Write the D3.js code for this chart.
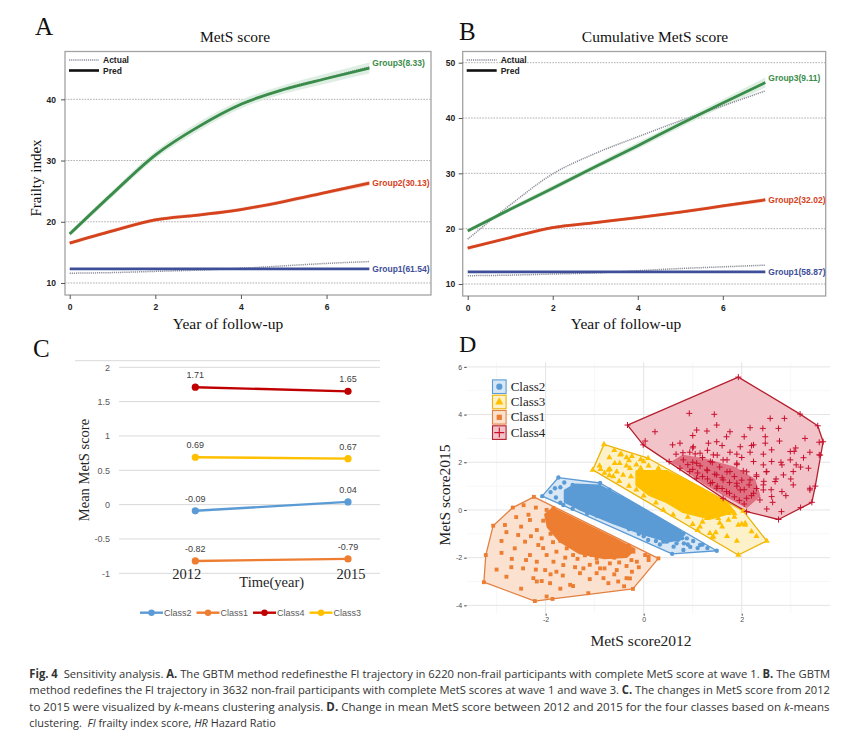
<!DOCTYPE html>
<html><head><meta charset="utf-8">
<script src="https://cdn.jsdelivr.net/npm/d3@7"></script>
<style>body{margin:0;background:#fff}</style>
</head><body>
<svg id="fig" width="863" height="748"></svg>
<script>
// ================= DATA =================
const years = [0,1,2,3,4,5,6,7];
const trajXTicks = [0,2,4,6];
const aYTicks = [10,20,30,40];
const bYTicks = [10,20,30,40,50];

// Panel A : MetS score
const aG3Pred = [18.0,24.6,30.9,35.5,39.2,41.6,43.4,45.1];
const aG3Act  = [18.1,24.7,31.0,35.4,39.1,41.7,43.5,45.3];
const aG3Ci   = [0.4,0.5,0.6,0.7,0.7,0.7,0.8,0.9];
const aG2Pred = [16.5,18.5,20.3,21.1,22.0,23.3,24.8,26.3];
const aG2Act  = [16.6,18.4,20.4,21.0,22.1,23.2,24.9,26.4];
const aG2Ci   = [0.3,0.3,0.3,0.3,0.3,0.3,0.3,0.4];
const aG1Pred = [12.3,12.3,12.3,12.3,12.3,12.3,12.3,12.3];
const aG1Act  = [11.6,11.7,11.9,12.1,12.4,12.8,13.2,13.5];
const aLabels = ["Group3(8.33)","Group2(30.13)","Group1(61.54)"];

// Panel B : Cumulative MetS score
const bG3Pred = [19.6,23.5,27.3,31.2,35.0,38.9,42.7,46.4];
const bG3Act  = [18.1,24.3,29.9,33.6,36.6,39.5,42.2,44.9];
const bG3Ci   = [0.4,0.4,0.5,0.5,0.6,0.6,0.7,0.9];
const bG2Pred = [16.5,18.4,20.2,21.1,22.0,23.0,24.1,25.2];
const bG2Act  = [16.6,18.3,20.3,21.0,22.1,22.9,24.2,25.3];
const bG2Ci   = [0.3,0.3,0.3,0.3,0.3,0.3,0.3,0.4];
const bG1Pred = [12.2,12.2,12.2,12.2,12.2,12.2,12.2,12.2];
const bG1Act  = [11.5,11.6,11.8,12.0,12.4,12.8,13.1,13.4];
const bLabels = ["Group3(9.11)","Group2(32.02)","Group1(58.87)"];

// Panel C : mean MetS score by class
const cYears = ["2012","2015"];
const cClasses = ["Class2","Class1","Class4","Class3"];
const class2Mean = [-0.09,0.04];
const class1Mean = [-0.82,-0.79];
const class4Mean = [1.71,1.65];
const class3Mean = [0.69,0.67];
const cYTicks = [-1,-0.5,0,0.5,1,1.5,2];

// Panel D : k-means clusters (MetS score2012, MetS score2015)
const dXMajor = [-2,0,2], dXMinor = [-3,-1,1,3];
const dYMajor = [-4,-2,0,2,4,6], dYMinor = [-3,-1,1,3,5];
const dLegend = ["Class2","Class3","Class1","Class4"];
const class1Pts = [[-2.24,0.55],[-2.67,0.1],[-3.07,-0.66],[-3.22,-1.89],[-3.26,-3.03],[-2.22,-3.82],[-1.86,-3.73],[-0.22,-3.31],[0.3,-2.03],
 [-2.32,-0.42],[-1.95,-0.28],[-2.83,-0.63],[-2.8,-0.93],[-2.56,-1.05],[-2.42,-1.33],[-2.18,-0.84],[-2.08,-1.19],[-2.63,-1.61],[-2.69,-2.05],
 [-2.32,-1.89],[-2.46,-2.45],[-2.25,-2.86],[-2.08,-2.98],[-1.91,-3.07],[-1.78,-2.59],[-1.84,-2.17],[-1.64,-2.31],[-1.5,-3.14],[-1.3,-2.65],
 [-1.13,-3.49],[-0.96,-2.65],[-0.82,-2.86],[-0.72,-3.07],[-0.52,-3.0],[-0.35,-2.86],[-0.24,-2.59],[-0.14,-2.17],[0.03,-1.89],[0.1,-1.95],
 [-0.3,-1.5],[-0.21,-1.75],[-0.45,-1.89],[-0.69,-2.24],[-0.96,-2.03],[-1.16,-1.75],[-1.44,-1.89],[-1.57,-1.61],[-1.78,-1.75],[-1.98,-1.89],
 [-2.15,-1.47],[-2.01,-2.52],[-2.18,-2.17],[-1.91,-0.7],[-1.74,-0.49],[-1.84,0.07],[-1.98,0.0],[-1.5,-0.35],[-1.23,-2.45],[-1.06,-1.89],
 [-0.55,-2.52],[-2.18,-3.0],[-1.98,-3.63],[-0.28,-2.87],[-1.44,-3.19],[-0.89,-2.45],[-2.9,-1.3],[-3.0,-2.5],[-2.8,-2.8],[-2.5,-3.3],
 [-2.6,-0.3],[-2.45,0.2],[-2.2,0.1],[-2.05,-0.45],[-1.7,-1.3],[-1.2,-1.6],[-0.8,-1.75],[-0.6,-2.0],[-1.35,-2.05],[-1.65,-2.75],[-2.4,-2.1],
 [-1.9,-1.0],[-1.7,-0.8],[-1.5,-1.5],[-1.2,-1.9],[-0.95,-2.2],[-0.7,-1.95],[-0.5,-2.2],[-0.25,-2.1],[-1.1,-2.3],[-1.4,-2.4],[-1.6,-2.0],
 [-2.3,-1.1],[-2.5,-0.7],[-2.2,-2.5],[-1.9,-2.7],[-1.1,-2.9],[-0.6,-2.7],[-0.4,-3.2],[-1.7,-3.3],[-2.7,-2.4],[-2.9,-1.8],[-0.1,-2.4],[0.1,-2.1],
 [-2.05,-1.6],[-1.35,-1.1],[-0.95,-1.55],[-0.35,-2.35],[-0.8,-2.45],[-1.85,-1.35],[-2.35,-0.2]];
const class1Core = [[-1.85,0.05],[-1.2,-0.61],[-0.6,-1.22],[-0.2,-1.65],[-0.35,-1.95],[-0.8,-2.0],[-1.3,-1.8],[-1.7,-1.3],[-1.95,-0.7],[-2.0,-0.2]];
const class2Pts = [[-1.74,1.36],[-0.89,1.13],[1.49,-1.71],[0.58,-1.84],[-2.07,0.58],
 [-1.79,0.52],[-1.57,0.42],[-1.4,0.21],[-1.64,0.21],[-1.37,0.77],[-1.16,0.49],[-1.03,0.91],[-1.3,0.07],[-0.7,0.85],[-1.81,0.91],[-1.62,1.15],
 [-0.45,0.5],[0.27,-1.05],[0.47,-1.33],[0.67,-1.4],[0.57,-1.05],[0.81,-1.0],[0.88,-1.19],[0.33,-1.45],[0.09,-1.26],[0.71,-0.95],[1.01,-1.3],
 [0.82,-1.4],[0.4,-1.33],[0.61,-1.54],[1.15,-1.47],[0.33,-1.12],[0.81,-1.68],[0.06,-0.84],[-0.9,0.9],[-0.3,0.3],[0.1,-0.2],[-1.0,-0.1],
 [-0.6,-0.5],[0.0,-1.1],[-0.3,-0.8],[1.2,-1.45],[-1.5,0.6],[-1.2,0.2],[-0.8,0.6],[0.95,-1.55],[1.3,-1.6],
 [-1.9,0.75],[-1.7,0.95],[-1.45,1.05],[-1.2,1.0],[-1.0,0.6],[-0.8,0.3],[-0.5,0.2],[-0.2,-0.1],[0.0,-0.4],[0.2,-0.7],[0.4,-0.9],[0.5,-1.2],
 [0.25,-1.3],[-0.1,-1.0],[-0.4,-0.65],[-0.7,-0.35],[-0.95,-0.25],[-1.15,-0.15],[-1.45,0.05],[-1.7,0.3],[0.9,-1.45],[1.1,-1.6],[0.7,-1.25]];
const class2Core = [[-1.4,1.05],[-0.9,1.0],[-0.3,0.35],[0.3,-0.35],[0.75,-0.9],[0.8,-1.2],[0.5,-1.3],[0.0,-1.0],[-0.6,-0.55],[-1.2,-0.05],[-1.6,0.35],[-1.6,0.8]];
const class3Pts = [[-0.81,2.75],[0.09,2.17],[2.03,-0.04],[2.51,-1.3],[1.93,-1.89],[-1.04,1.68],
 [-0.46,2.35],[-0.24,2.25],[-0.88,1.71],[-0.72,1.68],[-0.59,1.96],[-0.3,2.07],[0.0,2.03],[-0.48,2.32],[-0.06,2.12],[-0.49,1.96],[-0.69,1.71],
 [-0.28,1.75],[-0.06,1.75],[-0.42,1.47],[-0.26,1.4],[-0.55,1.6],[-0.15,1.9],[-0.35,1.85],[0.1,1.85],[-0.62,1.4],[-0.8,1.55],
 [2.0,-0.59],[2.07,-0.63],[1.47,-0.95],[1.4,-1.15],[1.73,-0.42],[1.35,-0.98],[1.93,-0.63],[2.07,-0.56],[1.85,-0.15],[1.73,-0.14],[1.42,-1.12],
 [1.52,-0.35],[1.15,-0.7],[1.29,-0.35],[1.7,0.05],[1.6,-0.7],[1.85,-0.3],[1.2,-0.5],[1.0,-0.6],[1.55,-0.55],[2.2,-0.9],[1.7,-1.1],[1.1,-0.85],
 [0.9,-0.3],[0.3,1.75],[0.6,1.3],[0.9,0.95],[1.3,0.5],[1.6,0.1],[0.4,0.0],[0.6,-0.2],[0.0,0.6],[-0.3,1.0],[-0.5,1.2],[-0.7,1.45],[1.9,-1.3],[2.3,-1.1],
 [-0.9,1.85],[-0.7,2.2],[-0.6,2.5],[-0.35,2.2],[-0.1,1.6],[0.2,1.3],[0.45,0.95],[0.75,0.6],[1.05,0.3],[1.4,-0.05],[0.25,0.3],[-0.15,0.85]];
const class3Core = [[-0.14,1.61],[0.47,1.61],[1.15,0.92],[1.69,0.3],[1.83,-0.07],[1.35,-0.35],[0.81,-0.07],[0.47,0.35],[0.13,0.63],[-0.14,1.05]];
const class4Pts = [[-0.33,3.56],[1.93,5.57],[3.19,4.02],[3.55,3.53],[3.66,2.86],[3.6,2.3],[3.5,1.0],[3.43,0.32],[3.2,0.1],[2.75,-0.4],[2.1,-0.07],[1.62,0.49],[-0.01,2.73],
 [0.93,4.05],[1.44,4.01],[0.23,3.28],[0.03,2.89],[2.58,3.84],[2.87,3.84],[1.49,3.56],[1.08,3.35],[1.29,3.31],[1.76,3.28],[2.17,3.45],[2.43,3.42],
 [2.75,3.42],[1.0,3.12],[1.69,3.07],[2.05,3.07],[2.48,3.07],[2.77,2.89],[3.29,3.0],[3.58,2.84],[0.59,2.73],[0.74,2.8],[1.01,2.65],[1.32,2.8],
 [1.49,2.86],[1.97,2.65],[2.24,2.73],[2.48,2.8],[2.61,2.52],[2.99,2.45],[3.07,2.46],[3.39,2.42],[3.58,2.31],[3.26,2.19],[0.66,2.34],[0.94,2.42],
 [1.15,2.38],[1.42,2.31],[1.76,2.42],[1.9,2.34],[2.17,2.42],[2.44,2.34],[0.52,2.03],[0.81,2.1],[1.08,1.96],[1.36,2.03],[1.62,2.1],[1.9,1.96],
 [2.24,2.03],[2.44,1.89],[2.61,2.03],[2.82,1.89],[2.99,2.1],[3.11,1.89],[3.36,1.75],[0.74,1.75],[0.94,1.61],[1.29,1.68],[1.49,1.47],[1.76,1.61],
 [2.03,1.64],[2.3,1.47],[2.51,1.61],[2.85,1.47],[3.05,1.61],[1.08,1.33],[1.36,1.12],[1.62,1.26],[1.9,1.12],[2.17,1.26],[2.44,1.05],[2.68,1.19],
 [3.05,1.05],[3.39,0.91],[1.49,0.91],[1.69,0.77],[1.97,0.84],[2.24,0.7],[2.44,0.84],[2.82,0.77],[2.1,0.49],[2.37,0.42],[2.61,0.56],[2.63,0.32],
 [2.51,0.04],[2.81,-0.07],[3.39,0.84],
 [0.9,1.9],[1.0,1.7],[1.1,1.55],[1.2,1.4],[1.3,1.3],[1.4,1.15],[1.5,1.0],[1.6,0.9],[1.75,0.7],[1.85,0.55],[1.95,0.4],[2.05,0.25],[1.0,2.0],
 [1.15,1.85],[1.3,1.65],[1.45,1.5],[1.6,1.35],[1.75,1.15],[1.9,1.0],[2.05,0.85],[2.2,0.6],[1.2,2.2],[1.4,2.0],[1.55,1.8],[1.7,1.6],[1.85,1.4],
 [2.0,1.25],[2.15,1.05],[2.3,0.9],[1.5,2.3],[1.7,2.1],[1.9,1.9],[2.1,1.6],[2.3,1.4],[2.45,1.2],[0.8,2.4],[1.05,2.35],[2.6,0.85],[2.5,1.6],
 [2.7,1.3],[1.3,2.5],[2.0,2.2],[2.8,2.0],[3.0,1.3],[2.9,0.6],[3.2,1.8],[3.1,2.6],[2.2,2.7],[1.6,2.7],[1.0,2.6]];
const class4Core = [[0.6,2.0],[0.75,1.85],[1.2,1.2],[1.65,0.65],[2.1,0.15],[2.35,0.6],[2.25,1.25],[1.85,1.75],[1.25,2.1],[0.8,2.25]];

// Caption text
const captionLines = [
 [["Fig. 4","b"],["  Sensitivity analysis. ",""],["A.","b"],[" The GBTM method redefinesthe FI trajectory in 6220 non-frail participants with complete MetS score at wave 1. ",""],["B.","b"],[" The GBTM",""]],
 [["method redefines the FI trajectory in 3632 non-frail participants with complete MetS scores at wave 1 and wave 3. ",""],["C.","b"],[" The changes in MetS score from 2012",""]],
 [["to 2015 were visualized by ",""],["k","i"],["-means clustering analysis. ",""],["D.","b"],[" Change in mean MetS score between 2012 and 2015 for the four classes based on ",""],["k","i"],["-means",""]],
 [["clustering.  ",""],["FI","i"],[" frailty index score, ",""],["HR","i"],[" Hazard Ratio",""]]
];

// ================= DRAWING =================
const SERIF = "'Liberation Serif','Times New Roman',serif";
const SANS = "'Liberation Sans',Arial,sans-serif";
const GREEN = "#3a8c4a", RED = "#d5421c", NAVY = "#3e4e98";
const svg = d3.select("#fig");
svg.append("rect").attr("width",863).attr("height",748).attr("fill","#fff");

function letter(t,x,y){
  svg.append("text").attr("x",x).attr("y",y).attr("font-family",SERIF).attr("font-size",25).attr("fill","#111").text(t);
}

function traj(o){
  const g = svg.append("g");
  const x = d3.scaleLinear().domain(o.xDom).range([o.L,o.R]);
  const y = d3.scaleLinear().domain(o.yDom).range([o.B,o.T]);
  g.selectAll("line.grid").data(o.yTicks).join("line")
    .attr("x1",o.L).attr("x2",o.R).attr("y1",d=>y(d)).attr("y2",d=>y(d))
    .attr("stroke","#9c9c9c").attr("stroke-width",0.8).attr("stroke-dasharray","1.6,1.2");
  g.append("rect").attr("x",o.L).attr("y",o.T).attr("width",o.R-o.L).attr("height",o.B-o.T)
    .attr("fill","none").attr("stroke","#a3a3a3").attr("stroke-width",1.3);
  const ya = g.append("g").attr("transform",`translate(${o.L},0)`)
    .call(d3.axisLeft(y).tickValues(o.yTicks).tickSize(4).tickPadding(o.yPad).tickFormat(d=>String(d)));
  const xa = g.append("g").attr("transform",`translate(0,${o.B})`)
    .call(d3.axisBottom(x).tickValues(trajXTicks).tickSize(4).tickPadding(5).tickFormat(d=>String(d)));
  [ya,xa].forEach(a=>{
    a.select(".domain").remove();
    a.selectAll("line").attr("stroke","#555");
    a.selectAll("text").attr("font-family",SANS).attr("font-weight","bold").attr("font-size",8.5).attr("fill","#222");
  });
  const line = d3.line().x((d,i)=>x(years[i])).y(d=>y(d)).curve(d3.curveMonotoneX);
  const area = d3.area().x((d,i)=>x(years[i])).y0(d=>y(d[0]-d[1])).y1(d=>y(d[0]+d[1])).curve(d3.curveMonotoneX);
  o.series.forEach(s=>{
    if(s.ci){
      g.append("path").attr("d",area(s.pred.map((v,i)=>[v,s.ci[i]]))).attr("fill",s.band).attr("opacity",0.8);
    }
    g.append("path").attr("d",line(s.act)).attr("fill","none").attr("stroke","#8d8f99")
      .attr("stroke-width",1.5).attr("stroke-dasharray","1.2,0.9");
    g.append("path").attr("d",line(s.pred)).attr("fill","none").attr("stroke",s.color).attr("stroke-width",2.8);
    g.append("text").attr("x",x(years[years.length-1])+3).attr("y",y(s.pred[s.pred.length-1])+3+s.dy)
      .attr("font-family",SANS).attr("font-weight","bold").attr("font-size",8.5).attr("fill",s.color).text(s.label);
  });
  const lx = o.L+4;
  g.append("line").attr("x1",lx).attr("x2",lx+30).attr("y1",60).attr("y2",60)
    .attr("stroke","#8d8f99").attr("stroke-width",1.5).attr("stroke-dasharray","1.2,0.9");
  g.append("line").attr("x1",lx).attr("x2",lx+30).attr("y1",70.5).attr("y2",70.5).attr("stroke","#111").attr("stroke-width",2.6);
  [["Actual",63],["Pred",73.5]].forEach(([t,yy])=>g.append("text").attr("x",lx+34).attr("y",yy)
    .attr("font-family",SANS).attr("font-weight","bold").attr("font-size",8.5).attr("fill","#222").text(t));
  svg.append("text").attr("x",o.titleX).attr("y",42).attr("text-anchor","middle").attr("font-family",SERIF)
    .attr("font-size",15.5).attr("fill","#111").text(o.title);
  svg.append("text").attr("x",o.xLabX).attr("y",329).attr("text-anchor","middle").attr("font-family",SERIF)
    .attr("font-size",15.5).attr("fill","#111").text("Year of follow-up");
  if(o.yLabel){
    svg.append("text").attr("transform","translate(41,178) rotate(-90)").attr("text-anchor","middle")
      .attr("font-family",SERIF).attr("font-size",15).attr("fill","#111").text(o.yLabel);
  }
}

traj({L:65,R:431,T:51.5,B:295,xDom:[-0.11,8.44],yDom:[8.04,47.81],yTicks:aYTicks,yPad:5,
  title:"MetS score",titleX:235,xLabX:228,yLabel:"Frailty index",
  series:[
    {pred:aG3Pred,act:aG3Act,ci:aG3Ci,color:GREEN,band:"#d6eadb",label:aLabels[0],dy:-5},
    {pred:aG2Pred,act:aG2Act,ci:aG2Ci,color:RED,band:"#f4cbbd",label:aLabels[1],dy:0},
    {pred:aG1Pred,act:aG1Act,ci:null,color:NAVY,label:aLabels[2],dy:0}]});
traj({L:462.7,R:825.7,T:51.5,B:296,xDom:[-0.118,8.42],yDom:[7.83,52.02],yTicks:bYTicks,yPad:3.5,
  title:"Cumulative MetS score",titleX:655,xLabX:626,yLabel:null,
  series:[
    {pred:bG3Pred,act:bG3Act,ci:bG3Ci,color:GREEN,band:"#d6eadb",label:bLabels[0],dy:-4.5},
    {pred:bG2Pred,act:bG2Act,ci:bG2Ci,color:RED,band:"#f4cbbd",label:bLabels[1],dy:0},
    {pred:bG1Pred,act:bG1Act,ci:null,color:NAVY,label:bLabels[2],dy:0}]});
letter("A",35,35); letter("B",459,40);

// ---------- Panel C ----------
(function(){
  const g = svg.append("g");
  const x = d3.scalePoint().domain(cYears).range([195.3,348]);
  const y = d3.scaleLinear().domain([-1,2]).range([573.3,367.3]);
  const series = {Class2:class2Mean,Class1:class1Mean,Class4:class4Mean,Class3:class3Mean};
  const colors = {Class2:"#5b9bd5",Class1:"#ed7d31",Class4:"#c00000",Class3:"#ffc000"};
  g.append("line").attr("x1",75).attr("x2",380).attr("y1",360.7).attr("y2",360.7).attr("stroke","#d9d9d9").attr("stroke-width",1);
  g.selectAll("line.grid").data(cYTicks).join("line").attr("x1",119).attr("x2",380)
    .attr("y1",d=>y(d)).attr("y2",d=>y(d)).attr("stroke","#d9d9d9").attr("stroke-width",1);
  const ya = g.append("g").attr("transform","translate(119,0)")
    .call(d3.axisLeft(y).tickValues(cYTicks).tickSize(0).tickPadding(9).tickFormat(d=>String(d)));
  ya.select(".domain").remove();
  ya.selectAll("text").attr("font-family",SANS).attr("font-size",9).attr("fill","#595959");
  cClasses.forEach(c=>{
    const v = series[c];
    g.append("path").attr("d",d3.line().x((d,i)=>x(cYears[i])).y(d=>y(d))(v))
      .attr("stroke",colors[c]).attr("stroke-width",2.4).attr("fill","none");
    g.selectAll(null).data(v).join("circle").attr("cx",(d,i)=>x(cYears[i])).attr("cy",d=>y(d)).attr("r",3.6).attr("fill",colors[c]);
    g.selectAll(null).data(v).join("text").attr("x",(d,i)=>x(cYears[i])).attr("y",d=>y(d)-9)
      .attr("text-anchor","middle").attr("font-family",SANS).attr("font-size",9).attr("fill","#404040").text(d=>d.toFixed(2));
  });
  cYears.forEach((c,i)=>g.append("text").attr("x",x(c)+(i===0?-8.6:3)).attr("y",579).attr("text-anchor","middle")
    .attr("font-family",SERIF).attr("font-size",14.5).attr("fill","#262626").text(c));
  g.append("text").attr("x",271.7).attr("y",587).attr("text-anchor","middle").attr("font-family",SERIF)
    .attr("font-size",14.5).attr("fill","#262626").text("Time(year)");
  g.append("text").attr("transform","translate(89,470) rotate(-90)").attr("text-anchor","middle")
    .attr("font-family",SERIF).attr("font-size",14.5).attr("fill","#262626").text("Mean MetS score");
  cClasses.forEach((c,i)=>{
    const x0 = 140 + i*56.5;
    g.append("line").attr("x1",x0).attr("x2",x0+23).attr("y1",612.7).attr("y2",612.7).attr("stroke",colors[c]).attr("stroke-width",2.4);
    g.append("circle").attr("cx",x0+11.5).attr("cy",612.7).attr("r",3.2).attr("fill",colors[c]);
    g.append("text").attr("x",x0+24).attr("y",615.8).attr("font-family",SANS).attr("font-size",9).attr("fill","#595959").text(c);
  });
  letter("C",33,357);
})();

// ---------- Panel D ----------
(function(){
  const g = svg.append("g");
  const x = d3.scaleLinear().domain([-3.61,3.80]).range([466.7,830]);
  const y = d3.scaleLinear().domain([-4.35,6.2]).range([613.7,362.1]);
  const [X0,X1] = x.range(), [Y0,Y1] = y.range();
  const grid = (vals,vert,col,w)=>g.selectAll(null).data(vals).join("line")
    .attr("x1",d=>vert?x(d):X0).attr("x2",d=>vert?x(d):X1)
    .attr("y1",d=>vert?Y0:y(d)).attr("y2",d=>vert?Y1:y(d)).attr("stroke",col).attr("stroke-width",w);
  grid(dXMinor,true,"#f3f3f3",0.7); grid(dYMinor,false,"#f3f3f3",0.7);
  grid(dXMajor,true,"#e4e4e4",1); grid(dYMajor,false,"#e4e4e4",1);
  const ya = g.append("g").attr("transform",`translate(${X0},0)`)
    .call(d3.axisLeft(y).tickValues(dYMajor).tickSize(2.5).tickPadding(2).tickFormat(d=>String(d)));
  const xa = g.append("g").attr("transform",`translate(0,${Y0})`)
    .call(d3.axisBottom(x).tickValues(dXMajor).tickSize(2).tickPadding(1.5).tickFormat(d=>String(d)));
  [ya,xa].forEach(a=>{a.select(".domain").remove();a.selectAll("line").attr("stroke","#444");
    a.selectAll("text").attr("font-family",SANS).attr("font-size",7).attr("fill","#4d4d4d");});

  const classes = [
    {pts:class1Pts,core:class1Core,col:"#ed7d31",fill:"#fbe2d0",stroke:"#e38142",sym:"square"},
    {pts:class2Pts,core:class2Core,col:"#5b9bd5",fill:"#d8e7f5",stroke:"#5b9bd5",sym:"circle"},
    {pts:class3Pts,core:class3Core,col:"#ffc000",fill:"#fdf1c9",stroke:"#eab308",sym:"triangle"},
    {pts:class4Pts,core:class4Core,col:"#c8102e",fill:"#f2c4ca",stroke:"#b5202e",sym:"cross"}];
  const symPath = {
    square:d3.symbol(d3.symbolSquare,15)(), circle:d3.symbol(d3.symbolCircle,15)(),
    triangle:d3.symbol(d3.symbolTriangle,16)(), cross:"M-3,0H3M0,-3V3"};
  classes.forEach(c=>{
    const hull = d3.polygonHull(c.pts.map(p=>[x(p[0]),y(p[1])]));
    g.append("path").attr("d","M"+hull.join("L")+"Z").attr("fill",c.fill).attr("stroke",c.stroke).attr("stroke-width",1.3).attr("stroke-linejoin","round");
  });
  classes.forEach(c=>{
    g.append("path").attr("d","M"+c.core.map(p=>[x(p[0]),y(p[1])]).join("L")+"Z")
      .attr("fill",c.col).attr("opacity",c.sym==="cross"?0.45:1).attr("stroke",c.col).attr("stroke-width",3).attr("stroke-linejoin","round");
    g.selectAll(null).data(c.pts).join("path").attr("transform",p=>`translate(${x(p[0])},${y(p[1])})`)
      .attr("d",symPath[c.sym]).attr("fill",c.sym==="cross"?"none":c.col)
      .attr("stroke",c.sym==="cross"?c.col:"none").attr("stroke-width",1);
  });
  const legInfo = {Class2:classes[1],Class3:classes[2],Class1:classes[0],Class4:classes[3]};
  const bigSym = {square:d3.symbol(d3.symbolSquare,28)(),circle:d3.symbol(d3.symbolCircle,30)(),
    triangle:d3.symbol(d3.symbolTriangle,30)(),cross:"M-5,0H5M0,-5V5"};
  dLegend.forEach((k,i)=>{
    const c = legInfo[k], yy = 386.7 + i*15.3;
    g.append("rect").attr("x",492.5).attr("y",yy-6.8).attr("width",13.6).attr("height",13.6)
      .attr("fill",c.fill).attr("stroke",c.stroke).attr("stroke-width",1.1);
    g.append("path").attr("transform",`translate(499.3,${yy})`).attr("d",bigSym[c.sym])
      .attr("fill",c.sym==="cross"?"none":c.col).attr("stroke",c.sym==="cross"?c.col:"none").attr("stroke-width",1.1);
    g.append("text").attr("x",510.7).attr("y",yy+4).attr("font-family",SERIF).attr("font-size",13).attr("fill","#222").text(k);
  });
  g.append("text").attr("x",641).attr("y",646).attr("text-anchor","middle").attr("font-family",SERIF)
    .attr("font-size",15.5).attr("fill","#222").text("MetS score2012");
  g.append("text").attr("transform","translate(450,495) rotate(-90)").attr("text-anchor","middle")
    .attr("font-family",SERIF).attr("font-size",15.5).attr("fill","#222").text("MetS score2015");
  svg.append("text").attr("x",459).attr("y",352).attr("font-family",SERIF).attr("font-size",24).attr("fill","#111").text("D");
})();

// ---------- Caption (condensed by horizontal scaling to the printed line width) ----------
const capY = [677.5,694.2,710.8,727.3];
const capLen = [802,802,801,247];
captionLines.forEach((ln,i)=>{
  const t = svg.append("text").attr("x",0).attr("y",0).attr("font-family","'Open Sans',sans-serif")
    .attr("font-size",11.5).attr("fill","#333").style("white-space","pre");
  ln.forEach(([s,f])=>t.append("tspan").attr("font-weight",f==="b"?"bold":null).attr("font-style",f==="i"?"italic":null).text(s));
  const w = t.node().getComputedTextLength();
  t.attr("transform",`translate(29.3,${capY[i]}) scale(${capLen[i]/w},1)`);
});
</script>
</body></html>
